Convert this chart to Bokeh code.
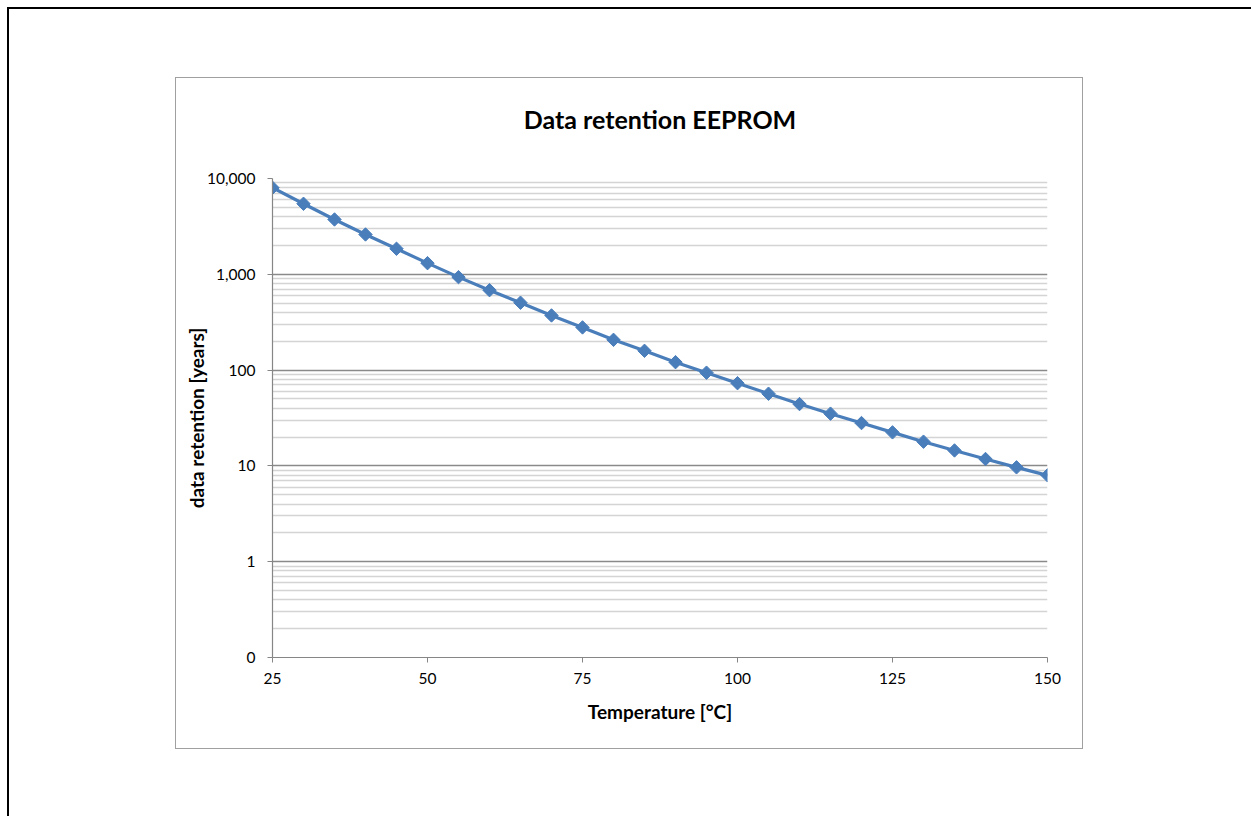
import math
from bokeh.plotting import figure
from bokeh.models import ColumnDataSource, FixedTicker, InlineStyleSheet
from bokeh.embed import file_html
from bokeh.resources import INLINE

# ---- data ----
temperature = [25, 30, 35, 40, 45, 50, 55, 60, 65, 70, 75, 80, 85,
               90, 95, 100, 105, 110, 115, 120, 125, 130, 135, 140, 145, 150]
retention_years = [8000, 5450, 3735, 2605, 1848, 1307, 934, 683, 505, 372, 279, 207, 159,
                   121, 94, 73, 56.7, 44.2, 35.1, 28.0, 22.4, 17.9, 14.5, 11.8, 9.66, 7.97]
x_ticks = [25, 50, 75, 100, 125, 150]
y_ticks = [0.1, 1, 10, 100, 1000, 10000]
y_tick_labels = ["0", "1", "10", "100", "1,000", "10,000"]
y_minor = [m * d for d in [0.1, 1, 10, 100, 1000] for m in range(2, 10)]

FONT = "Lato"
BLUE = "#4a7ebb"

W, H = 1251, 816
p = figure(width=W, height=H, output_backend="svg", toolbar_location=None,
           y_axis_type="log", x_range=(25, 150), y_range=(0.1, 10000),
           min_border_left=272, min_border_right=204,
           min_border_top=178, min_border_bottom=159)
p.background_fill_color = "white"
p.border_fill_color = "white"
p.outline_line_color = None

# chart-area box (gray) and outer black border, drawn as CSS frames
p.stylesheets = [InlineStyleSheet(css="""
:host { position: relative; }
:host::before {
  content: ""; position: absolute; left: 7px; top: 7px;
  width: 3000px; height: 3000px; border: 2px solid #000000;
  pointer-events: none; z-index: 10; box-sizing: border-box;
}
:host::after {
  content: ""; position: absolute; left: 175px; top: 77px;
  width: 908px; height: 672px; border: 1.5px solid #a0a0a0;
  pointer-events: none; z-index: 10; box-sizing: border-box;
}
""")]

# title
p.title.text = "Data retention EEPROM"
p.title.align = "center"
p.title.text_font = FONT
p.title.text_font_style = "bold"
p.title.text_font_size = "25px"
p.title.text_color = "#000000"
p.title.standoff = 90

src = ColumnDataSource(dict(x=temperature, y=retention_years))
p.line("x", "y", source=src, line_color=BLUE, line_width=3.2)
p.scatter("x", "y", source=src, marker="square", angle=math.pi / 4, size=9.5,
          fill_color=BLUE, line_color=BLUE)

# axes
p.xaxis.ticker = FixedTicker(ticks=x_ticks)
p.xgrid.visible = False
yt = FixedTicker(ticks=y_ticks, minor_ticks=y_minor)
p.yaxis.ticker = yt
p.ygrid.ticker = yt
p.yaxis.major_label_overrides = {v: l for v, l in zip(y_ticks, y_tick_labels)}

for ax in (p.xaxis, p.yaxis):
    ax.axis_line_color = "#868686"
    ax.axis_line_width = 1.2
    ax.major_tick_line_color = "#868686"
    ax.major_tick_in = 0
    ax.major_tick_out = 5
    ax.minor_tick_line_color = None
    ax.major_label_text_font = FONT
    ax.major_label_text_font_size = "15.5px"
    ax.major_label_text_color = "#000000"
    ax.axis_label_text_font = FONT
    ax.axis_label_text_font_style = "bold"
    ax.axis_label_text_font_size = "19px"
    ax.axis_label_text_color = "#000000"

p.xaxis.major_label_standoff = 10
p.yaxis.major_label_standoff = 12
p.xaxis.axis_label = "Temperature [°C]"
p.xaxis.axis_label_standoff = 13
p.yaxis.axis_label = "data retention [years]"
p.yaxis.axis_label_standoff = -4

p.ygrid.grid_line_color = "#8a8a8a"
p.ygrid.grid_line_width = 1.3
p.ygrid.minor_grid_line_color = "#d4d4d4"
p.ygrid.minor_grid_line_width = 1.3

open("out.html", "w").write(file_html(p, INLINE))
